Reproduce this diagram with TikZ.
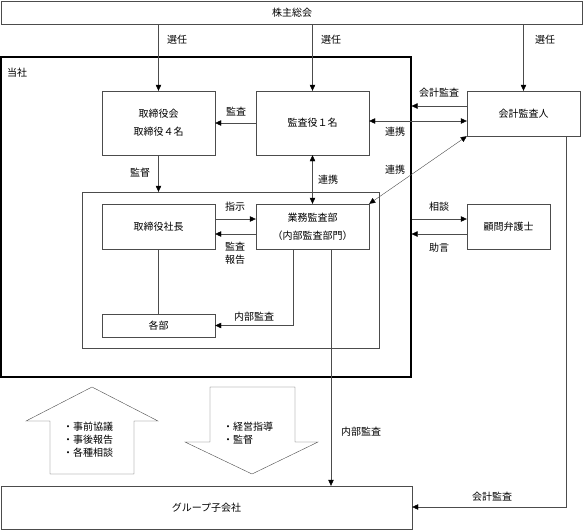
\documentclass[tikz,border=0pt]{standalone}
\usepackage{fontspec}
\setmainfont{Noto Sans CJK JP}
\usetikzlibrary{arrows.meta}

\tikzset{
  box/.style={draw=black!70, rectangle, inner sep=0pt, align=center, font=\fontsize{10}{12}\selectfont},
  lbl/.style={inner sep=0pt, align=left, font=\fontsize{10}{13}\selectfont},
  arr/.style={draw=black!70, -{Triangle[length=6pt,width=5.5pt,color=black]}},
  darr/.style={draw=black!70, {Triangle[length=6pt,width=5.5pt,color=black]}-{Triangle[length=6pt,width=5.5pt,color=black]}},
}

\begin{document}
\begin{tikzpicture}[x=1pt,y=-1pt]
  \useasboundingbox (0,0) rectangle (584,531);

  % BOXES
  \node[box, minimum width=581pt, minimum height=23pt] (kabunushi) at (292,12.5) {株主総会};
  \node[draw, very thick, minimum width=410pt, minimum height=320pt] (tousha) at (206,217) {};
  \node[lbl] (toushalbl) at (17,73) {当社};
  \node[box, minimum width=297pt, minimum height=156pt] (inner) at (230.5,270) {};
  \node[box, minimum width=113pt, minimum height=64pt] (torikai) at (158.5,123) {取締役会\\[6pt]取締役４名};
  \node[box, minimum width=113pt, minimum height=64pt] (kansayaku) at (312.5,123) {監査役１名};
  \node[box, minimum width=113pt, minimum height=45pt] (kaikeinin) at (523.5,113.5) {会計監査人};
  \node[box, minimum width=113pt, minimum height=45pt] (shacho) at (158.5,226.5) {取締役社長};
  \node[box, minimum width=113pt, minimum height=45pt] (gyomu) at (312.5,226.5) {業務監査部\\[6pt]（内部監査部門）};
  \node[box, minimum width=113pt, minimum height=23pt] (kakubu) at (158.5,325.5) {各部};
  \node[box, minimum width=83pt, minimum height=45pt] (komon) at (508.5,226.5) {顧問弁護士};
  \node[box, minimum width=411pt, minimum height=43pt] (group) at (206.5,507.5) {グループ子会社};

  % HELPER POINTS
  \coordinate (naibu) at (331,0);
  \coordinate (kaikeiline) at (566,507);

  % SENNIN
  \draw[arr] (kabunushi.south -| torikai.north) -- (torikai.north);
  \draw[arr] (kabunushi.south -| kansayaku.north) -- (kansayaku.north);
  \draw[arr] (kabunushi.south -| kaikeinin.north) -- (kaikeinin.north);
  \node[lbl] (sennin1) at (177,40) {選任};
  \node[lbl] (sennin2) at (331,40) {選任};
  \node[lbl] (sennin3) at (545,40) {選任};

  % KANSA / RENKEI
  \draw[arr] (kansayaku.west) -- (torikai.east);
  \node[lbl] (kansa) at (236,112) {監査};
  \draw[arr] (kaikeinin.west |- 0,106) -- (tousha.east |- 0,106);
  \node[lbl] (kaikei1) at (439,93) {会計監査};
  \draw[darr] (kansayaku.east |- 0,121) -- (kaikeinin.west |- 0,121);
  \node[lbl] (renkei1) at (395,132) {連携};
  \draw[darr] (gyomu.north east) -- (kaikeinin.south west);
  \node[lbl] (renkei2) at (395,170) {連携};
  \draw[darr] (kansayaku.south) -- (gyomu.north);
  \node[lbl] (renkei3) at (328,180) {連携};

  % INSIDE
  \draw[arr] (torikai.south) -- (inner.north -| torikai.south);
  \node[lbl] (kantoku) at (140,173) {監督};
  \draw[arr] (shacho.east |- 0,219) -- (gyomu.west |- 0,219);
  \node[lbl] (shiji) at (235,207) {指示};
  \draw[arr] (gyomu.west |- 0,234) -- (shacho.east |- 0,234);
  \node[lbl, align=center] (hokoku) at (235,253) {監査\\報告};
  \draw[draw=black!70] (shacho.south) -- (kakubu.north);
  \draw[arr] ([xshift=-19.5pt]gyomu.south) |- (kakubu.east);
  \node[lbl] (naibu1) at (254,317) {内部監査};

  % KOMON
  \draw[arr] (tousha.east |- 0,219) -- (komon.west |- 0,219);
  \node[lbl] (sodan) at (439,207) {相談};
  \draw[arr] (komon.west |- 0,234) -- (tousha.east |- 0,234);
  \node[lbl] (jogen) at (439,248) {助言};

  % GROUP
  \draw[arr] (gyomu.south -| naibu) -- (group.north -| naibu);
  \node[lbl] (naibu2) at (361,432) {内部監査};
  \draw[arr] (kaikeinin.south -| kaikeiline) -- (kaikeiline) -- (kaikeiline -| group.east);
  \node[lbl] (kaikei2) at (492,497) {会計監査};

  % BLOCK ARROWS
  \draw[draw=black!70] (50,474) -- (50,421) -- (26,421) -- (92,387) -- (158,421) -- (134,421) -- (134,474) -- cycle;
  \node[lbl, anchor=west] (agari) at (63,440) {・事前協議\\・事後報告\\・各種相談};
  \draw[draw=black!70] (210,387) -- (295,387) -- (295,442) -- (318,442) -- (252,474) -- (185,442) -- (210,442) -- cycle;
  \node[lbl, anchor=west] (sagari) at (223,433.5) {・経営指導\\・監督};
\end{tikzpicture}
\end{document}
